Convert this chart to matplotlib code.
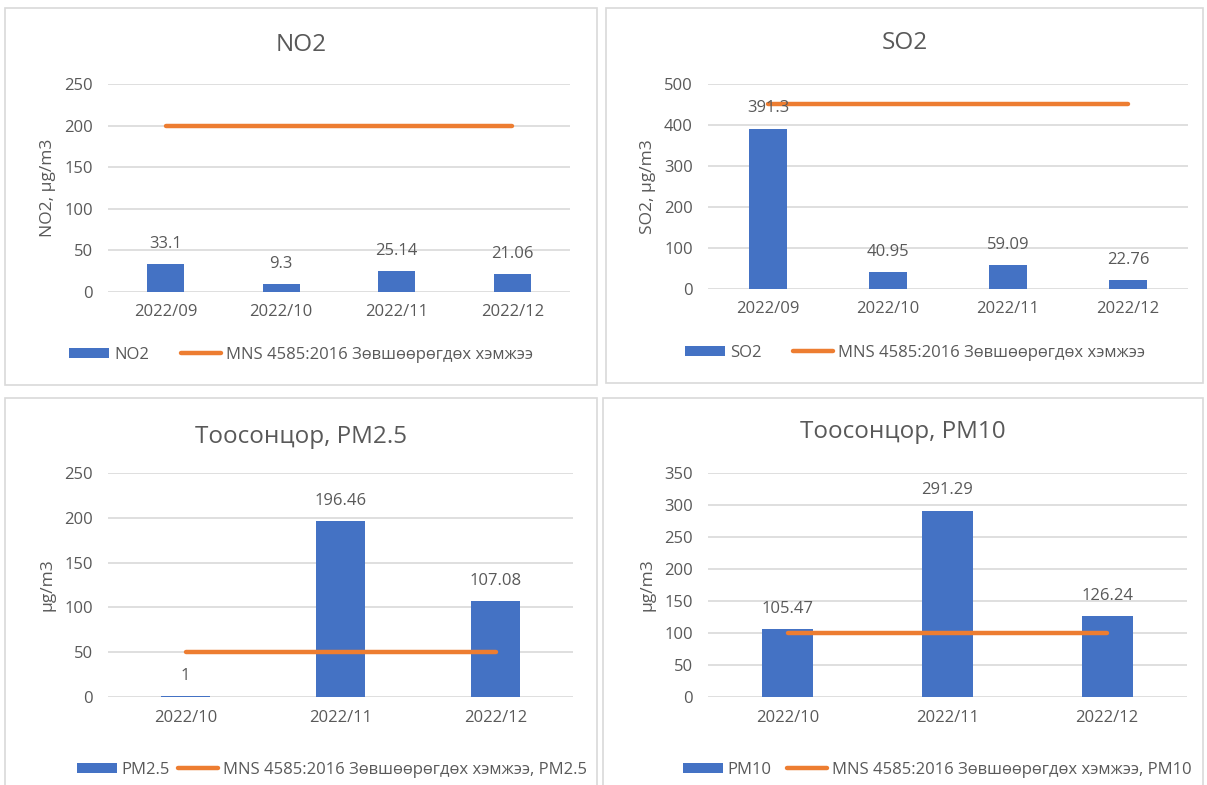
import matplotlib
matplotlib.use("Agg")
import matplotlib.pyplot as plt
from matplotlib.patches import Rectangle

plt.rcParams['font.family'] = ['Open Sans', 'Noto Sans', 'DejaVu Sans']

BLUE = '#4472C4'
ORANGE = '#ED7D31'
GRID = '#D9D9D9'
TEXT = '#595959'

W, H = 1207, 785

# data
months_a = ['2022/09', '2022/10', '2022/11', '2022/12']
months_b = ['2022/10', '2022/11', '2022/12']

no2 = [33.1, 9.3, 25.14, 21.06]
no2_limit = [200, 200, 200, 200]
so2 = [391.3, 40.95, 59.09, 22.76]
so2_limit = [450, 450, 450, 450]
pm25 = [1, 196.46, 107.08]
pm25_limit = [50, 50, 50]
pm10 = [105.47, 291.29, 126.24]
pm10_limit = [100, 100, 100]

limit_name = 'MNS 4585:2016 Зөвшөөрөгдөх хэмжээ'

panels = [
    # border box (px), axes box (px: x0, x1, ytop, ybottom), title y,
    # legend centre (px) and column spacing
    dict(title='NO2', ylabel='NO2, μg/m3', cats=months_a, vals=no2,
         limit=no2_limit, series='NO2', lname=limit_name, ymax=250, step=50,
         box=(5, 8, 597, 385), ax=(108, 570, 84, 292), ty=45,
         lx=301, ly=355, cs=1.9),
    dict(title='SO2', ylabel='SO2, μg/m3', cats=months_a, vals=so2,
         limit=so2_limit, series='SO2', lname=limit_name, ymax=500, step=100,
         box=(606, 8, 1203, 383), ax=(708, 1188, 84, 289), ty=43,
         lx=915, ly=353, cs=1.9),
    dict(title='Тоосонцор, PM2.5', ylabel='μg/m3', cats=months_b, vals=pm25,
         limit=pm25_limit, series='PM2.5', lname=limit_name + ', PM2.5',
         ymax=250, step=50,
         box=(5, 398, 597, 790), ax=(108, 573, 473, 697), ty=437,
         lx=332, ly=770, cs=0.5),
    dict(title='Тоосонцор, PM10', ylabel='μg/m3', cats=months_b, vals=pm10,
         limit=pm10_limit, series='PM10', lname=limit_name + ', PM10',
         ymax=350, step=50,
         box=(603, 398, 1203, 790), ax=(708, 1187, 473, 697), ty=432,
         lx=937, ly=770, cs=0.9),
]

fig = plt.figure(figsize=(W / 100, H / 100), dpi=100)

for p in panels:
    bx0, by0, bx1, by1 = p['box']
    fig.patches.append(Rectangle((bx0 / W, 1 - by1 / H), (bx1 - bx0) / W,
                                 (by1 - by0) / H, transform=fig.transFigure,
                                 fill=False, edgecolor=GRID, linewidth=1.2))
    x0, x1, yt, yb = p['ax']
    ax = fig.add_axes([x0 / W, 1 - yb / H, (x1 - x0) / W, (yb - yt) / H])
    n = len(p['cats'])
    xs = list(range(n))
    bars = ax.bar(xs, p['vals'], width=0.32, color=BLUE, label=p['series'],
                  zorder=2)
    line, = ax.plot(xs, p['limit'], color=ORANGE, linewidth=3.2,
                    solid_capstyle='round', label=p['lname'], zorder=3)
    for x, v in zip(xs, p['vals']):
        ax.annotate(f'{v:g}', (x, v), xytext=(0, 14.5),
                    textcoords='offset points', ha='center', va='center',
                    fontsize=12, color=TEXT, zorder=4)
    ax.set_xlim(-0.5, n - 0.5)
    ax.set_ylim(0, p['ymax'])
    ax.set_yticks(range(0, p['ymax'] + 1, p['step']))
    ax.set_xticks(xs)
    ax.set_xticklabels(p['cats'])
    ax.grid(axis='y', color=GRID, linewidth=1.2, zorder=0)
    ax.set_axisbelow(True)
    for s in ax.spines.values():
        s.set_visible(False)
    ax.tick_params(length=0, labelsize=12, labelcolor=TEXT)
    ax.tick_params(axis='y', pad=11)
    ax.tick_params(axis='x', pad=9)
    ax.set_ylabel(p['ylabel'], fontsize=12.5, color=TEXT, labelpad=6)
    cx = (bx0 + bx1) / 2
    fig.text(cx / W, 1 - p['ty'] / H, p['title'], ha='center', va='center',
             fontsize=17.5, color=TEXT)
    ax.legend([bars, line], [p['series'], p['lname']], loc='center',
              bbox_to_anchor=(p['lx'] / W, 1 - p['ly'] / H),
              bbox_transform=fig.transFigure, ncol=2, frameon=False,
              fontsize=12, labelcolor=TEXT, handlelength=2.4,
              handleheight=0.6, handletextpad=0.3, columnspacing=p['cs'])

fig.savefig('out.png', dpi=100)
